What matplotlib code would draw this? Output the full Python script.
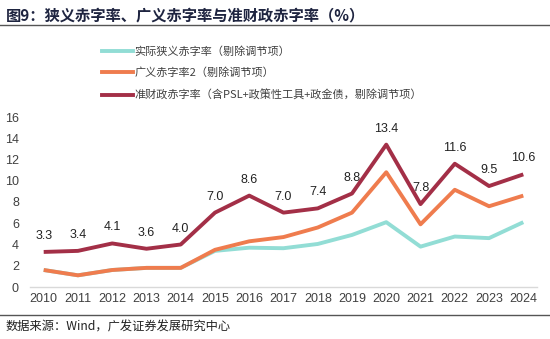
import matplotlib
matplotlib.use("Agg")
import matplotlib.pyplot as plt
from matplotlib.lines import Line2D

plt.rcParams['font.family'] = ['Liberation Sans', 'Noto Sans CJK SC', 'DejaVu Sans']

years = list(range(2010, 2025))
narrow = [1.6, 1.1, 1.6, 1.8, 1.8, 3.4, 3.7, 3.65, 4.05, 4.9, 6.1, 3.8, 4.75, 4.6, 6.1]
broad = [1.6, 1.1, 1.6, 1.8, 1.8, 3.5, 4.3, 4.7, 5.6, 7.0, 10.8, 5.9, 9.15, 7.6, 8.6]
quasi = [3.3, 3.4, 4.1, 3.6, 4.0, 7.0, 8.6, 7.0, 7.4, 8.8, 13.4, 7.8, 11.6, 9.5, 10.6]
labels = ["实际狭义赤字率（剔除调节项）", "广义赤字率2（剔除调节项）",
          "准财政赤字率（含PSL+政策性工具+政金债，剔除调节项）"]
title = "图9：狭义赤字率、广义赤字率与准财政赤字率（%）"
source = "数据来源：Wind，广发证券发展研究中心"
yticks = [0, 2, 4, 6, 8, 10, 12, 14, 16]

c_teal = '#92DDD5'
c_orange = '#EF7C4E'
c_red = '#A32F47'

fig = plt.figure(figsize=(5.5, 3.39), dpi=100)
ax = fig.add_axes([30/550, (339-287)/339, 507/550, 170/339])

ax.plot(years, narrow, color=c_teal, lw=2.8, solid_capstyle='butt', zorder=2)
ax.plot(years, broad, color=c_orange, lw=2.8, solid_capstyle='butt', zorder=3)
ax.plot(years, quasi, color=c_red, lw=2.8, solid_capstyle='butt', zorder=4)

for x, v in zip(years, quasi):
    ax.annotate(f"{v:.1f}", (x, v), xytext=(0, 11.5), textcoords='offset points',
                ha='center', va='center', fontsize=9, color='#222222')

ax.set_xlim(2009.6, 2024.4)
ax.set_ylim(0, 16)
ax.set_yticks(yticks)
ax.set_xticks(years)
ax.tick_params(axis='both', length=0, labelsize=9, colors='#404040')
ax.tick_params(axis='y', pad=8)
ax.tick_params(axis='x', pad=4)
for s in ['top', 'right', 'left']:
    ax.spines[s].set_visible(False)
ax.spines['bottom'].set_color('#D9D9D9')
ax.spines['bottom'].set_linewidth(1.0)

handles = [Line2D([], [], color=c, lw=2.8) for c in (c_teal, c_orange, c_red)]
fig.legend(handles, labels, loc='upper left', bbox_to_anchor=(92/550, 1 - 36/339),
           frameon=False, handlelength=2.8, handletextpad=0.1,
           labelspacing=1.0, prop={'family': ['Noto Sans CJK SC', 'DejaVu Sans'], 'size': 8},
           labelcolor='#404040')

fig.text(6/550, 1 - 15/339, title, fontsize=11, fontweight='bold', color='#1E2440',
         va='center', ha='left', family=['Noto Sans CJK SC', 'DejaVu Sans'])
fig.add_artist(Line2D([0, 1], [1 - 25/339, 1 - 25/339], color='#555555', lw=1.0))
fig.add_artist(Line2D([0, 1], [1 - 315/339, 1 - 315/339], color='#555555', lw=1.0))
fig.text(6/550, 1 - 327/339, source, fontsize=8.8, color='#222222', va='center', ha='left',
         family=['Noto Sans CJK SC', 'DejaVu Sans'])

fig.savefig('out.png', dpi=100)
